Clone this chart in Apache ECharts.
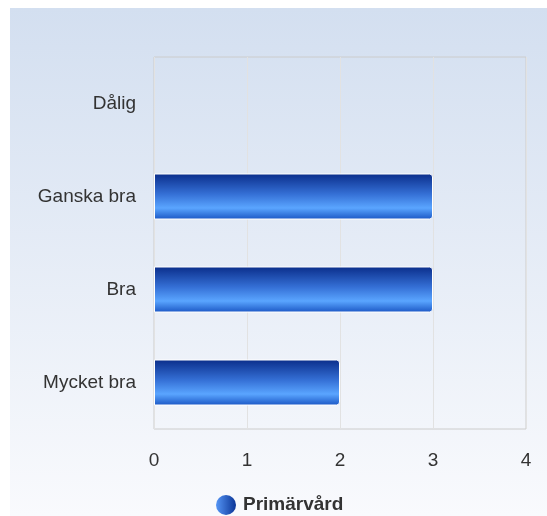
<!DOCTYPE html>
<html>
<head>
<meta charset="utf-8">
<script src="https://cdn.jsdelivr.net/npm/echarts@6/dist/echarts.min.js"></script>
<style>
html, body { margin: 0; padding: 0; background: #fff; }
#chart { width: 547px; height: 516px; }
</style>
</head>
<body>
<div id="chart"></div>
<script>
var categories = ['Dålig', 'Ganska bra', 'Bra', 'Mycket bra'];
var primarvard = [0, 3, 3, 2];
var seriesName = 'Primärvård';

var barColor = new echarts.graphic.LinearGradient(0, 0, 0, 1, [
	{ offset: 0, color: '#0a2d8a' },
	{ offset: 0.45, color: '#3570d6' },
	{ offset: 0.75, color: '#5aa5ff' },
	{ offset: 1, color: '#1a56c4' }
]);
var legendColor = new echarts.graphic.LinearGradient(0, 0, 1, 0, [
	{ offset: 0, color: '#5595f5' },
	{ offset: 1, color: '#0b3597' }
]);

var fontFam = 'Arial, Liberation Sans, sans-serif';

var chart = echarts.init(document.getElementById('chart'));
var option = {
	backgroundColor: 'transparent',
	animation: false,
	graphic: [{
		type: 'rect',
		left: 10,
		top: 8,
		shape: { width: 537, height: 508 },
		z: -10,
		style: {
			fill: new echarts.graphic.LinearGradient(0, 0, 0, 1, [
				{ offset: 0, color: '#d3dff0' },
				{ offset: 1, color: '#f9fafd' }
			])
		}
	}],
	grid: {
		left: 154,
		top: 57,
		width: 372,
		height: 372,
		show: true,
		borderColor: '#cccccc',
		borderWidth: 1,
		backgroundColor: 'transparent'
	},
	legend: {
		left: 216,
		top: 495,
		padding: 0,
		icon: 'circle',
		itemWidth: 20,
		itemHeight: 20,
		itemGap: 6,
		textStyle: { color: '#333', fontSize: 19, fontWeight: 'bold', fontFamily: fontFam, padding: [0, 0, 0, 2] },
		data: [{ name: seriesName, itemStyle: { color: legendColor, borderWidth: 0 } }]
	},
	xAxis: {
		type: 'value',
		min: 0,
		max: 4,
		interval: 1,
		axisLine: { show: false },
		axisTick: { show: false },
		splitLine: { show: true, lineStyle: { color: '#e2e2e2', width: 1 } },
		axisLabel: { color: '#333', fontSize: 19, margin: 22, fontFamily: fontFam }
	},
	yAxis: {
		type: 'category',
		inverse: true,
		data: categories,
		axisLine: { show: false },
		axisTick: { show: false },
		axisLabel: { color: '#333', fontSize: 19, margin: 18, fontFamily: fontFam, padding: [5, 0, 0, 0] }
	},
	series: [{
		name: seriesName,
		type: 'bar',
		data: primarvard.map(function (v) {
			return v === 0 ? { value: v, itemStyle: { borderWidth: 0 } } : v;
		}),
		barWidth: 46,
		itemStyle: {
			color: barColor,
			borderColor: '#ffffff',
			borderWidth: 1,
			borderRadius: [0, 3, 3, 0]
		}
	}]
};
chart.setOption(option);
</script>
</body>
</html>
